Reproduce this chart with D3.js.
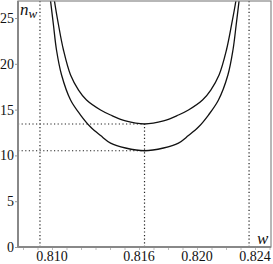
<!DOCTYPE html>
<html>
<head>
<meta charset="utf-8">
<script src="https://cdn.jsdelivr.net/npm/d3@7"></script>
<style>
  body { margin: 0; background: #fff; }
  svg { display: block; }
  svg text { font-family: "Liberation Serif", "DejaVu Serif", serif; fill: #111; }
</style>
</head>
<body>
<div id="chart"></div>
<script>
const W = 273, H = 264;
const margin = {left: 18, right: 2, top: 1, bottom: 17};

// axis ticks
const xTicks = [0.810, 0.816, 0.820, 0.824];
const yTicks = [0, 5, 10, 15, 20, 25];

// upper curve (n_w vs w)
const outerW = [0.81004, 0.81017, 0.81045, 0.81079, 0.81128, 0.81183, 0.81238, 0.81335, 0.81404, 0.81507,
                0.81638, 0.81769, 0.81872, 0.81941, 0.82038, 0.82095, 0.82152, 0.82203, 0.82238, 0.82268, 0.82282];
const outerN = [28.5, 26.86, 24.24, 21.51, 18.78, 17.14, 16.05, 14.96, 14.41, 13.76,
                13.43, 13.76, 14.41, 14.96, 16.05, 17.14, 18.78, 21.51, 24.24, 26.86, 28.5];

// lower curve
const innerW = [0.80976, 0.80990, 0.81010, 0.81031, 0.81066, 0.81128, 0.81197, 0.81266, 0.81335, 0.81404, 0.81507,
                0.81638, 0.81769, 0.81872, 0.81941, 0.82010, 0.82079, 0.82148, 0.82213, 0.82248, 0.82270, 0.82290, 0.82304];
const innerN = [28.5, 26.86, 24.24, 21.51, 18.78, 16.05, 14.41, 13.10, 12.17, 11.35, 10.81,
                10.51, 10.81, 11.35, 12.17, 13.10, 14.41, 16.05, 18.78, 21.51, 24.24, 26.86, 28.5];

// dotted guides
const vGuides = [0.80917, 0.82359];      // full height
const wMin = 0.81638;                    // minimum position
const nMins = [13.43, 10.51];            // minimum values

const x = d3.scaleLinear().domain([0.807655, 0.825103]).range([margin.left, W - margin.right]);
const y = d3.scaleLinear().domain([0, 26.86]).range([H - margin.bottom, margin.top]);

const svg = d3.select('#chart').append('svg')
  .attr('width', W)
  .attr('height', H);

svg.append('clipPath').attr('id', 'clip')
  .append('rect')
  .attr('x', margin.left).attr('y', margin.top)
  .attr('width', W - margin.left - margin.right)
  .attr('height', H - margin.top - margin.bottom);

const dots = {stroke: '#222', 'stroke-width': 1.2, 'stroke-dasharray': '1.2,2.4', fill: 'none'};
function style(sel, o) { Object.entries(o).forEach(([k, v]) => sel.attr(k, v)); return sel; }

// guides
const g = svg.append('g').attr('clip-path', 'url(#clip)');
vGuides.forEach(v => {
  style(g.append('line'), dots)
    .attr('x1', x(v)).attr('x2', x(v))
    .attr('y1', y(0)).attr('y2', margin.top);
});
style(g.append('line'), dots)
  .attr('x1', x(wMin)).attr('x2', x(wMin))
  .attr('y1', y(0)).attr('y2', y(nMins[0]));
nMins.forEach(n => {
  style(g.append('line'), dots)
    .attr('x1', margin.left).attr('x2', x(wMin))
    .attr('y1', y(n)).attr('y2', y(n));
});

// curves
const line = d3.line()
  .x(d => x(d[0]))
  .y(d => y(d[1]))
  .curve(d3.curveCatmullRom.alpha(0.5));

[[outerW, outerN], [innerW, innerN]].forEach(([ws, ns]) => {
  g.append('path')
    .datum(ws.map((w, i) => [w, ns[i]]))
    .attr('d', line)
    .attr('fill', 'none')
    .attr('stroke', '#111')
    .attr('stroke-width', 1.3);
});

// axes
const xAxis = svg.append('g')
  .attr('transform', `translate(0,${y(0)})`)
  .call(d3.axisBottom(x).tickValues(d3.range(0.808, 0.8255, 0.001)).tickSize(3).tickFormat(''));
xAxis.selectAll('line').attr('stroke', '#bbb');
xAxis.select('.domain').remove();

svg.selectAll('text.xt')
  .data(xTicks)
  .enter()
  .append('text')
  .attr('class', 'xt')
  .attr('x', d => x(d))
  .attr('y', H - 3)
  .attr('text-anchor', 'middle')
  .style('font-size', '14px')
  .text(d => d3.format('.3f')(d));

const yAxis = svg.append('g')
  .attr('transform', `translate(${margin.left},0)`)
  .call(d3.axisLeft(y).tickValues(yTicks).tickSize(3).tickFormat(''));
yAxis.selectAll('line').attr('stroke', '#999');
yAxis.select('.domain').remove();

svg.selectAll('text.yt')
  .data(yTicks)
  .enter()
  .append('text')
  .attr('class', 'yt')
  .attr('x', 14)
  .attr('y', d => y(d) + 5)
  .attr('text-anchor', 'end')
  .style('font-size', '14px')
  .text(d => d);

// frame
svg.append('rect')
  .attr('x', margin.left).attr('y', margin.top)
  .attr('width', W - margin.left - margin.right)
  .attr('height', H - margin.top - margin.bottom)
  .attr('fill', 'none')
  .attr('stroke', '#888')
  .attr('stroke-width', 1.2);
svg.append('line')
  .attr('x1', margin.left).attr('x2', margin.left)
  .attr('y1', margin.top).attr('y2', y(0))
  .attr('stroke', '#888').attr('stroke-width', 2);
svg.append('line')
  .attr('x1', margin.left).attr('x2', W - margin.right)
  .attr('y1', y(0)).attr('y2', y(0))
  .attr('stroke', '#888').attr('stroke-width', 2);

// axis titles
const ny = svg.append('text')
  .attr('x', 20).attr('y', 15)
  .style('font-style', 'italic')
  .style('font-size', '17px');
ny.append('tspan').text('n');
ny.append('tspan').attr('dy', 3).style('font-size', '13px').text('w');

svg.append('text')
  .attr('x', 257).attr('y', 244)
  .style('font-style', 'italic')
  .style('font-size', '17px')
  .text('w');
</script>
</body>
</html>
